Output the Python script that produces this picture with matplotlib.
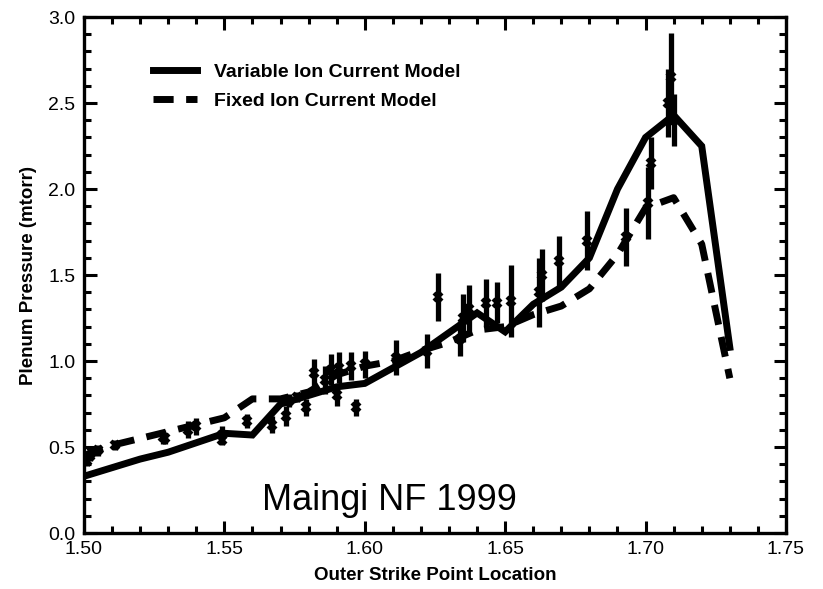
import matplotlib
matplotlib.use("Agg")
import matplotlib.pyplot as plt
from matplotlib.ticker import MultipleLocator

plt.rcParams['font.family'] = ['Liberation Sans Narrow', 'Liberation Sans', 'DejaVu Sans']

# model curves
var_x = [1.50, 1.52, 1.53, 1.55, 1.56, 1.57, 1.58, 1.59, 1.60, 1.62, 1.64, 1.65,
         1.66, 1.67, 1.68, 1.69, 1.70, 1.71, 1.72, 1.73]
var_y = [0.33, 0.43, 0.47, 0.58, 0.57, 0.75, 0.80, 0.85, 0.87, 1.05, 1.28, 1.17,
         1.33, 1.43, 1.60, 2.00, 2.30, 2.43, 2.25, 1.08]
fix_x = [1.50, 1.51, 1.52, 1.55, 1.56, 1.57, 1.58, 1.59, 1.60, 1.61, 1.62, 1.63,
         1.64, 1.65, 1.66, 1.67, 1.68, 1.69, 1.70, 1.71, 1.72, 1.73]
fix_y = [0.45, 0.51, 0.55, 0.67, 0.78, 0.78, 0.82, 0.92, 0.97, 1.00, 1.06, 1.11,
         1.18, 1.20, 1.27, 1.32, 1.42, 1.62, 1.89, 1.95, 1.68, 0.90]

# measured points
meas_x = [1.501, 1.502, 1.503, 1.505, 1.511, 1.528, 1.529, 1.537, 1.540, 1.549,
          1.549, 1.558, 1.567, 1.572, 1.573, 1.576, 1.579, 1.582, 1.586, 1.588,
          1.590, 1.591, 1.595, 1.597, 1.600, 1.611, 1.622, 1.626, 1.634, 1.635,
          1.637, 1.643, 1.647, 1.652, 1.662, 1.663, 1.669, 1.679, 1.693, 1.701,
          1.702, 1.708, 1.709, 1.710]
meas_y = [0.42, 0.45, 0.47, 0.48, 0.51, 0.56, 0.55, 0.60, 0.62, 0.57,
          0.54, 0.65, 0.63, 0.68, 0.77, 0.79, 0.73, 0.93, 0.89, 0.95,
          0.80, 0.96, 0.97, 0.73, 0.98, 1.02, 1.06, 1.37, 1.13, 1.25,
          1.30, 1.34, 1.34, 1.35, 1.40, 1.50, 1.58, 1.70, 1.72, 1.92,
          2.15, 2.50, 2.65, 2.40]
meas_err = [0.03, 0.03, 0.03, 0.03, 0.03, 0.04, 0.03, 0.05, 0.05, 0.05,
            0.03, 0.04, 0.05, 0.06, 0.04, 0.03, 0.05, 0.08, 0.08, 0.09,
            0.06, 0.09, 0.08, 0.05, 0.08, 0.10, 0.10, 0.14, 0.10, 0.14,
            0.14, 0.14, 0.12, 0.21, 0.20, 0.15, 0.15, 0.17, 0.17, 0.21,
            0.15, 0.20, 0.26, 0.15]

fig = plt.figure(figsize=(8.23, 5.89), dpi=100)
ax = fig.add_axes([0.102, 0.095, 0.853, 0.876])

ax.errorbar(meas_x, meas_y, yerr=meas_err, fmt='x', color='black', ms=6, mew=3,
            elinewidth=3.8, capsize=0)
ax.plot(var_x, var_y, color='black', lw=5, solid_joinstyle='miter',
        label='Variable Ion Current Model')
ax.plot(fix_x, fix_y, color='black', lw=5, dashes=(2.9, 1.8),
        label='Fixed Ion Current Model')

ax.set_xlim(1.50, 1.75)
ax.set_ylim(0.0, 3.0)
ax.xaxis.set_major_locator(MultipleLocator(0.05))
ax.xaxis.set_minor_locator(MultipleLocator(0.01))
ax.yaxis.set_major_locator(MultipleLocator(0.5))
ax.yaxis.set_minor_locator(MultipleLocator(0.1))
ax.xaxis.set_major_formatter(matplotlib.ticker.FormatStrFormatter('%.2f'))
ax.yaxis.set_major_formatter(matplotlib.ticker.FormatStrFormatter('%.1f'))
ax.tick_params(which='both', direction='in', top=True, right=True, width=2.2,
               labelsize=14)
ax.tick_params(which='major', length=9, pad=6)
ax.tick_params(which='minor', length=5)
for s in ax.spines.values():
    s.set_linewidth(2.4)

ax.set_xlabel('Outer Strike Point Location', fontsize=13.5, fontweight='bold', labelpad=6)
ax.set_ylabel('Plenum Pressure (mtorr)', fontsize=13.5, fontweight='bold', labelpad=8)

ax.legend(loc='upper left', bbox_to_anchor=(0.073, 0.945), frameon=False,
          handlelength=2.3, handletextpad=0.85, labelspacing=0.6,
          prop={'weight': 'bold', 'size': 14})

ax.text(1.5635, 0.19, 'Maingi NF 1999', fontsize=26, family=['Liberation Sans', 'DejaVu Sans'],
        va='center', ha='left')

fig.savefig('out.png', dpi=100)
